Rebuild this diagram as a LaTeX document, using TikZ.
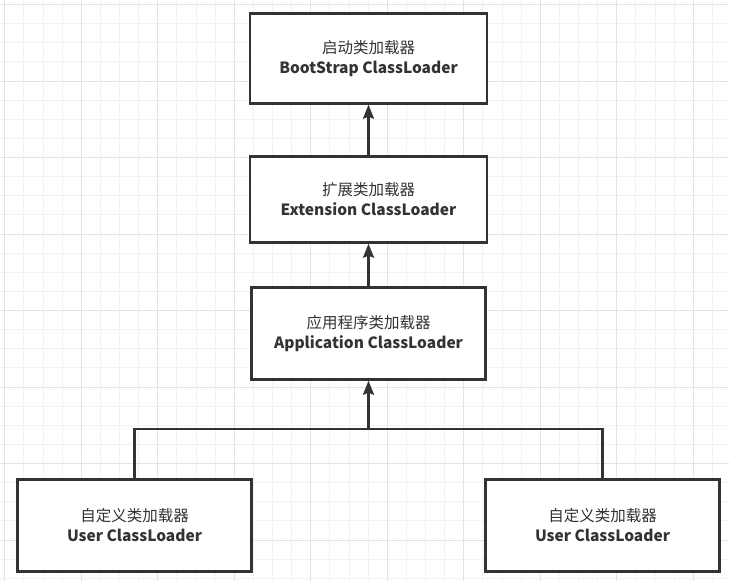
\documentclass[tikz,border=0pt]{standalone}
\usepackage{fontspec}
\setmainfont{Noto Sans CJK SC}
\usetikzlibrary{arrows.meta,positioning}
\definecolor{gridminor}{HTML}{F2F2F2}
\definecolor{gridmajor}{HTML}{E3E3E3}
\definecolor{boxline}{HTML}{333333}
\definecolor{labeltext}{HTML}{333333}

\tikzset{
  loaderbox/.style={draw=boxline,line width=2.4pt,fill=white,
    minimum width=237pt,minimum height=90pt,inner sep=0pt,
    align=center,text=labeltext,font=\fontsize{15.5}{20}\selectfont},
  link/.style={draw=boxline,line width=2.4pt},
  uparrow/.style={link,-{Stealth[length=14pt,width=11pt,inset=2pt]}}
}

\begin{document}
\begin{tikzpicture}[x=1pt,y=-1pt]
    \fill[white] (0,0) rectangle (729,581);
    \useasboundingbox (0,0) rectangle (729,581);
    % background grid
    \foreach \k in {0,...,38} {
      \draw[gridminor,line width=1pt] ({4.8+19.125*\k},0) -- ({4.8+19.125*\k},581);
    }
    \foreach \k in {0,...,30} {
      \draw[gridminor,line width=1pt] (0,{4.6+19.125*\k}) -- (729,{4.6+19.125*\k});
    }
    \foreach \k in {0,...,9} {
      \draw[gridmajor,line width=1pt] ({4.8+76.5*\k},0) -- ({4.8+76.5*\k},581);
    }
    \foreach \k in {0,...,7} {
      \draw[gridmajor,line width=1pt] (0,{4.6+76.5*\k}) -- (729,{4.6+76.5*\k});
    }

    % loaders
    \node[loaderbox] (boot) at (368.5,58.5) {启动类加载器\\\textbf{BootStrap ClassLoader}};
    \node[loaderbox,minimum height=86pt] (ext) at (368.5,199.5) {扩展类加载器\\\textbf{Extension ClassLoader}};
    \node[loaderbox,minimum width=234pt,minimum height=92pt] (app) at (368.5,333.5) {应用程序类加载器\\\textbf{Application ClassLoader}};
    \node[loaderbox,minimum width=234pt,minimum height=92pt] (userl) at (134.5,525.5) {自定义类加载器\\\textbf{User ClassLoader}};
    \node[loaderbox,minimum width=234pt,minimum height=92pt] (userr) at (602.5,525.5) {自定义类加载器\\\textbf{User ClassLoader}};
    \coordinate (join) at (368.5,429);

    \draw[uparrow] (ext.north) -- (boot.south);
    \draw[uparrow] (app.north) -- (ext.south);
    \draw[link] (userl.north) |- (join) -| (userr.north);
    \draw[uparrow] (join) -- (app.south);
  \end{tikzpicture}
\end{document}
